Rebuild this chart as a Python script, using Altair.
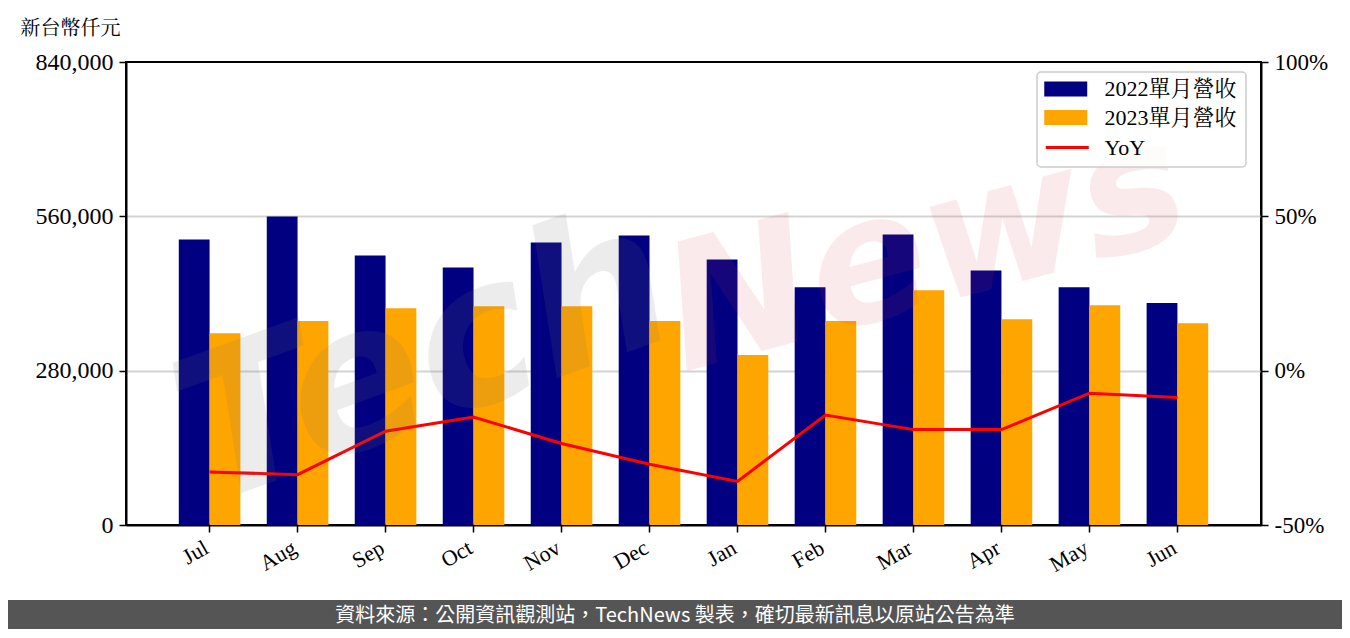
import altair as alt
import pandas as pd

months = ["Jul", "Aug", "Sep", "Oct", "Nov", "Dec", "Jan", "Feb", "Mar", "Apr", "May", "Jun"]
rev_2022 = [517900, 559500, 489000, 467300, 512500, 525100, 481800, 431200, 527000, 461900, 431200, 402800]
rev_2023 = [348100, 370300, 393300, 396900, 396900, 370300, 308400, 370300, 425800, 373400, 398700, 366200]
yoy = [-32.8, -33.7, -19.6, -15.0, -23.6, -30.3, -35.9, -14.4, -19.1, -19.1, -7.3, -8.7]
bar_series = ["2022單月營收", "2023單月營收"]
bar_colors = ["#000080", "#FFA500"]
line_series = ["YoY"]
line_colors = ["#FF0000"]
y_ticks = [0, 280000, 560000, 840000]
yoy_ticks = [-50, 0, 50, 100]
unit_title = "新台幣仟元"
footer_text = "資料來源：公開資訊觀測站，TechNews 製表，確切最新訊息以原站公告為準"

SERIF = "Liberation Serif, Noto Serif CJK TC, Noto Sans CJK TC, serif"
SANS = "Noto Sans CJK TC, Noto Sans, sans-serif"

bars_df = pd.DataFrame(
    [{"month": m, "series": bar_series[0], "value": v} for m, v in zip(months, rev_2022)]
    + [{"month": m, "series": bar_series[1], "value": v} for m, v in zip(months, rev_2023)]
)
line_df = pd.DataFrame({"month": months, "yoy": yoy, "name": line_series * len(months)})

x_enc = alt.X(
    "month:N",
    sort=months,
    scale=alt.Scale(paddingInner=0.3, paddingOuter=0.6),
    axis=alt.Axis(
        title=None, labelAngle=330, labelAlign="right", labelBaseline="top",
        labelFont=SERIF, labelFontSize=22, labelColor="black",
        labelOffset=-8, labelPadding=5,
        tickColor="black", tickSize=7, tickWidth=1.5,
        domainColor="black", domainWidth=2, grid=False,
    ),
)

legend_common = dict(
    title=None, orient="none",
    labelFont=SERIF, labelFontSize=22, labelColor="black",
    symbolSize=462, padding=0, rowPadding=6.5,
)

bars = alt.Chart(bars_df).mark_bar().encode(
    x=x_enc,
    xOffset=alt.XOffset("series:N", sort=bar_series,
                        scale=alt.Scale(paddingInner=0, paddingOuter=0)),
    y=alt.Y(
        "value:Q",
        scale=alt.Scale(domain=[0, 840000], nice=False, zero=True),
        axis=alt.Axis(
            orient="left", values=y_ticks, format=",d",
            title=unit_title, titleAngle=0, titleAlign="left", titleBaseline="middle",
            titleX=-106, titleY=-34, titleFont=SERIF, titleFontSize=20,
            titleFontWeight="normal", titleColor="black",
            labelFont=SERIF, labelFontSize=24, labelColor="black", labelPadding=6,
            tickColor="black", tickSize=7, tickWidth=1.5,
            domainColor="black", domainWidth=2,
            grid=True, gridColor="#d3d3d3", gridWidth=2,
            gridOpacity={"condition": {"test": "datum.value == 0 || datum.value == 840000", "value": 0}, "value": 1},
        ),
    ),
    color=alt.Color(
        "series:N",
        scale=alt.Scale(domain=bar_series, range=bar_colors),
        legend=alt.Legend(
            legendX=918, legendY=16, labelOffset=38.5,
            symbolType="M-1,-0.7H3V0.7H-1Z", symbolStrokeWidth=0,
            **legend_common,
        ),
    ),
)

line = alt.Chart(line_df).mark_line(strokeWidth=3).encode(
    x=x_enc,
    y=alt.Y(
        "yoy:Q",
        scale=alt.Scale(domain=[-50, 100], nice=False, zero=False),
        axis=alt.Axis(
            orient="right", values=yoy_ticks, labelExpr="datum.value + '%'",
            title=None, grid=False,
            labelFont=SERIF, labelFontSize=23, labelColor="black", labelPadding=6,
            tickColor="black", tickSize=7, tickWidth=1.5,
            domainColor="black", domainWidth=2,
        ),
    ),
    stroke=alt.Stroke(
        "name:N",
        scale=alt.Scale(domain=line_series, range=line_colors),
        legend=alt.Legend(
            legendX=918, legendY=73, labelOffset=35.5,
            symbolType="M-1,0H3", symbolStrokeWidth=3,
            **legend_common,
        ),
    ),
)

wm1 = alt.Chart(pd.DataFrame({"t": ["Tech"]})).mark_text(
    font="DejaVu Sans", fontSize=200, fontStyle="italic", fontWeight="bold",
    color="#777777", opacity=0.13, angle=340, align="center", baseline="middle",
).encode(text="t:N", x=alt.value(300), y=alt.value(300))
wm2 = alt.Chart(pd.DataFrame({"t": ["News"]})).mark_text(
    font="DejaVu Sans", fontSize=175, fontStyle="italic", fontWeight="bold",
    color="#d04050", opacity=0.1, angle=345, align="center", baseline="middle",
).encode(text="t:N", x=alt.value(800), y=alt.value(190))

legend_box = alt.Chart(pd.DataFrame({"a": [0]})).mark_rect(
    fill="white", fillOpacity=0.8, stroke="#cccccc", strokeWidth=1.5, cornerRadius=4
).encode(x=alt.value(911), x2=alt.value(1120), y=alt.value(10), y2=alt.value(105))

footer_bg = alt.Chart(pd.DataFrame({"a": [0]})).mark_rect(color="#555555").encode(
    x=alt.value(-118), x2=alt.value(1216), y=alt.value(538), y2=alt.value(567)
)
footer = alt.Chart(pd.DataFrame({"t": [footer_text]})).mark_text(
    font=SANS, fontSize=20, color="white", align="center", baseline="middle"
).encode(text="t:N", x=alt.value(549), y=alt.value(554))

chart = (
    alt.layer(bars, line, wm1, wm2, legend_box, footer_bg, footer)
    .resolve_scale(y="independent")
    .properties(
        width=1135, height=463,
        autosize=alt.AutoSizeParams(type="none"),
        padding={"left": 118, "top": 54, "right": 81, "bottom": 104},
        background="white",
    )
    .configure_view(stroke="black", strokeWidth=2)
)

chart.save("out.html", embed_options={"renderer": "svg", "actions": False})
